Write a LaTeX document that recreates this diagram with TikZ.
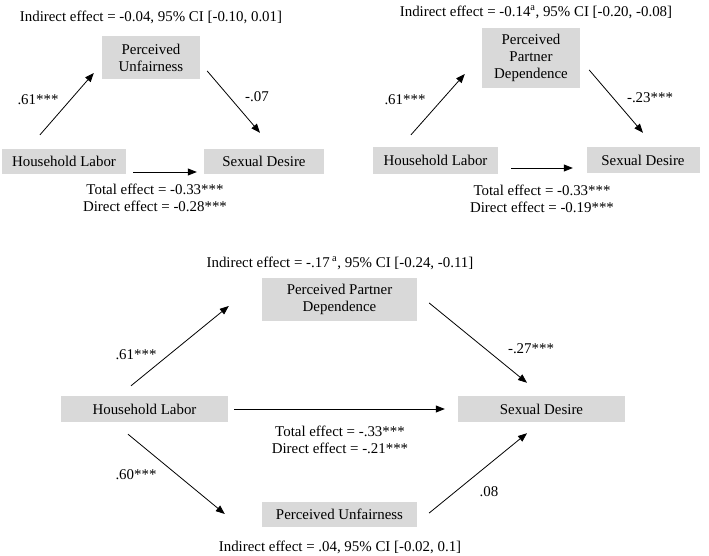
\documentclass[tikz,border=0pt]{standalone}
\usepackage{xcolor}
\usepackage{fontspec}
\setmainfont{Liberation Serif}
\usepackage{tikz}
\usetikzlibrary{positioning}
\usetikzlibrary{arrows.meta}
\usetikzlibrary{calc}
\tikzset{varbox/.style = {fill=black!15, align=center, inner sep=0pt}}
\tikzset{coef/.style = {align=center, inner sep=0pt}}
\tikzset{path/.style = {-{Triangle[length=9pt,width=7pt]}, line width=0.8pt}}

\begin{document}
\begin{tikzpicture}[x=1pt,y=-1pt,font=\fontsize{14.9}{17}\selectfont]
  \useasboundingbox (0,0) rectangle (709,556);
  % top left: unfairness
  \node[varbox, minimum width=98pt, minimum height=43pt] (pu1) at (151,57.5) {Perceived\\Unfairness};
  \node[varbox, minimum width=124pt, minimum height=25pt] (hl1) at (64,161.5) {Household Labor};
  \node[varbox, minimum width=120pt, minimum height=25pt] (sd1) at (264,161.5) {Sexual Desire};
  \draw[path] ([shift={(-24,-14)}]hl1.north) -- ([shift={(-8,15.5)}]pu1.west);
  \draw[path] ([shift={(7,13.5)}]pu1.east) -- ([shift={(-4,-16)}]sd1.north);
  \draw[path] ([shift={(7,10.5)}]hl1.east) -- ([shift={(-7,10.5)}]sd1.west);
  \node[coef] (ind1) at (151,17) {Indirect effect = -0.04, 95\% CI [-0.10, 0.01]};
  \node[coef] (a1) at (38,100) {.61***};
  \node[coef] (b1) at (257,97) {-.07};
  \node[coef] (c1) at (155,198) {Total effect = -0.33***\\Direct effect = -0.28***};
  % top right: partner dependence
  \node[varbox, minimum width=98pt, minimum height=60pt] (ppd2) at (531,58) {Perceived\\Partner\\Dependence};
  \node[varbox, minimum width=125pt, minimum height=27pt] (hl2) at (435.5,160.5) {Household Labor};
  \node[varbox, minimum width=113pt, minimum height=26pt] (sd2) at (643,160) {Sexual Desire};
  \draw[path] ([shift={(-24.5,-12)}]hl2.north) -- ([shift={(-17,16)}]ppd2.west);
  \draw[path] ([shift={(9,12)}]ppd2.east) -- ([shift={(0,-14)}]sd2.north);
  \draw[path] ([shift={(13,7.5)}]hl2.east) -- ([shift={(-13.5,8)}]sd2.west);
  \node[coef] (ind2) at (536,12) {Indirect effect = -0.14\textsuperscript{a}, 95\% CI [-0.20, -0.08]};
  \node[coef] (a2) at (405,100) {.61***};
  \node[coef] (b2) at (650,98) {-.23***};
  \node[coef] (c2) at (542,198.5) {Total effect = -0.33***\\Direct effect = -0.19***};
  % bottom: both mediators
  \node[varbox, minimum width=155pt, minimum height=43pt] (ppd3) at (339.5,299.5) {Perceived Partner\\Dependence};
  \node[varbox, minimum width=155pt, minimum height=25pt] (pu3) at (339.5,514.5) {Perceived Unfairness};
  \node[varbox, minimum width=167pt, minimum height=26pt] (hl3) at (144.5,409) {Household Labor};
  \node[varbox, minimum width=167pt, minimum height=26pt] (sd3) at (541.5,409) {Sexual Desire};
  \draw[path] ([shift={(-13.5,-10)}]hl3.north) -- ([shift={(-33,6.5)}]ppd3.west);
  \draw[path] ([shift={(12,3.5)}]ppd3.east) -- ([shift={(-14.5,-13)}]sd3.north);
  \draw[path] ([shift={(6,0)}]hl3.east) -- ([shift={(-13,0)}]sd3.west);
  \draw[path] ([shift={(-16.5,12)}]hl3.south) -- ([shift={(-37,-0.5)}]pu3.west);
  \draw[path] ([shift={(12,-1.5)}]pu3.east) -- ([shift={(-14.5,11)}]sd3.south);
  \node[coef] (ind3) at (340,263) {Indirect effect = -.17\,\textsuperscript{a}, 95\% CI [-0.24, -0.11]};
  \node[coef] (a3) at (136,355) {.61***};
  \node[coef] (b3) at (531,349) {-.27***};
  \node[coef] (a4) at (136,475) {.60***};
  \node[coef] (b4) at (489,492) {.08};
  \node[coef] (c3) at (340,439.5) {Total effect = -.33***\\Direct effect = -.21***};
  \node[coef] (ind4) at (340,547) {Indirect effect = .04, 95\% CI [-0.02, 0.1]};
\end{tikzpicture}
\end{document}
